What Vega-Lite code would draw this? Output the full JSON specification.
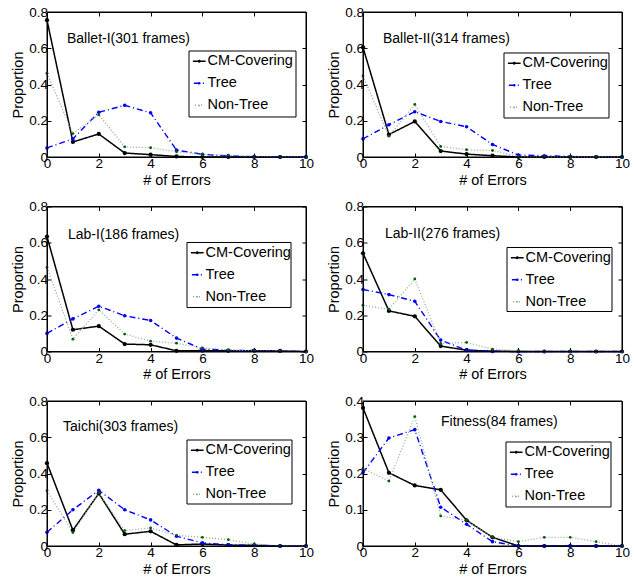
{
"$schema": "https://vega.github.io/schema/vega-lite/v6.json",
"padding": {"left": 10, "top": 5, "right": 2, "bottom": 2},
"config": {
 "font": "Liberation Sans",
 "view": {"stroke": null},
 "axis": {"grid": false, "domain": true, "domainColor": "black", "domainWidth": 1, "tickSize": -4, "tickColor": "black", "tickWidth": 1, "labelFontSize": 13.5, "labelColor": "black", "labelPadding": 3.5, "labelFlush": false, "titleFontSize": 14.5, "titleFontWeight": "normal", "titleColor": "black", "titlePadding": 3, "labelFont": "Liberation Sans", "titleFont": "Liberation Sans"},
 "legend": {"orient": "none", "title": null, "padding": 3, "labelFontSize": 14.5, "labelFont": "Liberation Sans", "labelColor": "black", "symbolSize": 256, "symbolStrokeWidth": 1.5, "rowPadding": 7, "labelOffset": 1, "offset": 0},
 "title": {"anchor": "start", "fontSize": 14, "fontWeight": "normal", "font": "Liberation Sans", "color": "black", "baseline": "middle", "frame": "group"}
},
"datasets": {"d": [
{"panel":"Ballet-I","method":"CM-Covering","e":0,"p":0.755},{"panel":"Ballet-I","method":"CM-Covering","e":1,"p":0.083},{"panel":"Ballet-I","method":"CM-Covering","e":2,"p":0.127},{"panel":"Ballet-I","method":"CM-Covering","e":3,"p":0.022},{"panel":"Ballet-I","method":"CM-Covering","e":4,"p":0.013},{"panel":"Ballet-I","method":"CM-Covering","e":5,"p":0.003},{"panel":"Ballet-I","method":"CM-Covering","e":6,"p":0},{"panel":"Ballet-I","method":"CM-Covering","e":7,"p":0},{"panel":"Ballet-I","method":"CM-Covering","e":8,"p":0},{"panel":"Ballet-I","method":"CM-Covering","e":9,"p":0},{"panel":"Ballet-I","method":"CM-Covering","e":10,"p":0},
{"panel":"Ballet-I","method":"Tree","e":0,"p":0.05},{"panel":"Ballet-I","method":"Tree","e":1,"p":0.1},{"panel":"Ballet-I","method":"Tree","e":2,"p":0.247},{"panel":"Ballet-I","method":"Tree","e":3,"p":0.285},{"panel":"Ballet-I","method":"Tree","e":4,"p":0.244},{"panel":"Ballet-I","method":"Tree","e":5,"p":0.038},{"panel":"Ballet-I","method":"Tree","e":6,"p":0.015},{"panel":"Ballet-I","method":"Tree","e":7,"p":0.006},{"panel":"Ballet-I","method":"Tree","e":8,"p":0.002},{"panel":"Ballet-I","method":"Tree","e":9,"p":0.001},{"panel":"Ballet-I","method":"Tree","e":10,"p":0},
{"panel":"Ballet-I","method":"Non-Tree","e":0,"p":0.462},{"panel":"Ballet-I","method":"Non-Tree","e":1,"p":0.129},{"panel":"Ballet-I","method":"Non-Tree","e":2,"p":0.233},{"panel":"Ballet-I","method":"Non-Tree","e":3,"p":0.056},{"panel":"Ballet-I","method":"Non-Tree","e":4,"p":0.051},{"panel":"Ballet-I","method":"Non-Tree","e":5,"p":0.029},{"panel":"Ballet-I","method":"Non-Tree","e":6,"p":0.014},{"panel":"Ballet-I","method":"Non-Tree","e":7,"p":0.01},{"panel":"Ballet-I","method":"Non-Tree","e":8,"p":0.002},{"panel":"Ballet-I","method":"Non-Tree","e":9,"p":0.001},{"panel":"Ballet-I","method":"Non-Tree","e":10,"p":0},
{"panel":"Ballet-II","method":"CM-Covering","e":0,"p":0.605},{"panel":"Ballet-II","method":"CM-Covering","e":1,"p":0.124},{"panel":"Ballet-II","method":"CM-Covering","e":2,"p":0.196},{"panel":"Ballet-II","method":"CM-Covering","e":3,"p":0.033},{"panel":"Ballet-II","method":"CM-Covering","e":4,"p":0.016},{"panel":"Ballet-II","method":"CM-Covering","e":5,"p":0.007},{"panel":"Ballet-II","method":"CM-Covering","e":6,"p":0},{"panel":"Ballet-II","method":"CM-Covering","e":7,"p":0},{"panel":"Ballet-II","method":"CM-Covering","e":8,"p":0},{"panel":"Ballet-II","method":"CM-Covering","e":9,"p":0},{"panel":"Ballet-II","method":"CM-Covering","e":10,"p":0},
{"panel":"Ballet-II","method":"Tree","e":0,"p":0.1},{"panel":"Ballet-II","method":"Tree","e":1,"p":0.178},{"panel":"Ballet-II","method":"Tree","e":2,"p":0.25},{"panel":"Ballet-II","method":"Tree","e":3,"p":0.196},{"panel":"Ballet-II","method":"Tree","e":4,"p":0.167},{"panel":"Ballet-II","method":"Tree","e":5,"p":0.069},{"panel":"Ballet-II","method":"Tree","e":6,"p":0.011},{"panel":"Ballet-II","method":"Tree","e":7,"p":0.007},{"panel":"Ballet-II","method":"Tree","e":8,"p":0.003},{"panel":"Ballet-II","method":"Tree","e":9,"p":0.001},{"panel":"Ballet-II","method":"Tree","e":10,"p":0},
{"panel":"Ballet-II","method":"Non-Tree","e":0,"p":0.447},{"panel":"Ballet-II","method":"Non-Tree","e":1,"p":0.115},{"panel":"Ballet-II","method":"Non-Tree","e":2,"p":0.29},{"panel":"Ballet-II","method":"Non-Tree","e":3,"p":0.058},{"panel":"Ballet-II","method":"Non-Tree","e":4,"p":0.04},{"panel":"Ballet-II","method":"Non-Tree","e":5,"p":0.036},{"panel":"Ballet-II","method":"Non-Tree","e":6,"p":0.002},{"panel":"Ballet-II","method":"Non-Tree","e":7,"p":0},{"panel":"Ballet-II","method":"Non-Tree","e":8,"p":0},{"panel":"Ballet-II","method":"Non-Tree","e":9,"p":0},{"panel":"Ballet-II","method":"Non-Tree","e":10,"p":0},
{"panel":"Lab-I","method":"CM-Covering","e":0,"p":0.634},{"panel":"Lab-I","method":"CM-Covering","e":1,"p":0.12},{"panel":"Lab-I","method":"CM-Covering","e":2,"p":0.14},{"panel":"Lab-I","method":"CM-Covering","e":3,"p":0.041},{"panel":"Lab-I","method":"CM-Covering","e":4,"p":0.037},{"panel":"Lab-I","method":"CM-Covering","e":5,"p":0.004},{"panel":"Lab-I","method":"CM-Covering","e":6,"p":0.005},{"panel":"Lab-I","method":"CM-Covering","e":7,"p":0.004},{"panel":"Lab-I","method":"CM-Covering","e":8,"p":0.005},{"panel":"Lab-I","method":"CM-Covering","e":9,"p":0.003},{"panel":"Lab-I","method":"CM-Covering","e":10,"p":0},
{"panel":"Lab-I","method":"Tree","e":0,"p":0.1},{"panel":"Lab-I","method":"Tree","e":1,"p":0.18},{"panel":"Lab-I","method":"Tree","e":2,"p":0.25},{"panel":"Lab-I","method":"Tree","e":3,"p":0.197},{"panel":"Lab-I","method":"Tree","e":4,"p":0.171},{"panel":"Lab-I","method":"Tree","e":5,"p":0.074},{"panel":"Lab-I","method":"Tree","e":6,"p":0.013},{"panel":"Lab-I","method":"Tree","e":7,"p":0.007},{"panel":"Lab-I","method":"Tree","e":8,"p":0.004},{"panel":"Lab-I","method":"Tree","e":9,"p":0.002},{"panel":"Lab-I","method":"Tree","e":10,"p":0},
{"panel":"Lab-I","method":"Non-Tree","e":0,"p":0.464},{"panel":"Lab-I","method":"Non-Tree","e":1,"p":0.068},{"panel":"Lab-I","method":"Non-Tree","e":2,"p":0.23},{"panel":"Lab-I","method":"Non-Tree","e":3,"p":0.096},{"panel":"Lab-I","method":"Non-Tree","e":4,"p":0.057},{"panel":"Lab-I","method":"Non-Tree","e":5,"p":0.046},{"panel":"Lab-I","method":"Non-Tree","e":6,"p":0.02},{"panel":"Lab-I","method":"Non-Tree","e":7,"p":0.009},{"panel":"Lab-I","method":"Non-Tree","e":8,"p":0.002},{"panel":"Lab-I","method":"Non-Tree","e":9,"p":0.002},{"panel":"Lab-I","method":"Non-Tree","e":10,"p":0},
{"panel":"Lab-II","method":"CM-Covering","e":0,"p":0.542},{"panel":"Lab-II","method":"CM-Covering","e":1,"p":0.224},{"panel":"Lab-II","method":"CM-Covering","e":2,"p":0.194},{"panel":"Lab-II","method":"CM-Covering","e":3,"p":0.03},{"panel":"Lab-II","method":"CM-Covering","e":4,"p":0.007},{"panel":"Lab-II","method":"CM-Covering","e":5,"p":0.002},{"panel":"Lab-II","method":"CM-Covering","e":6,"p":0},{"panel":"Lab-II","method":"CM-Covering","e":7,"p":0},{"panel":"Lab-II","method":"CM-Covering","e":8,"p":0},{"panel":"Lab-II","method":"CM-Covering","e":9,"p":0},{"panel":"Lab-II","method":"CM-Covering","e":10,"p":0},
{"panel":"Lab-II","method":"Tree","e":0,"p":0.342},{"panel":"Lab-II","method":"Tree","e":1,"p":0.314},{"panel":"Lab-II","method":"Tree","e":2,"p":0.277},{"panel":"Lab-II","method":"Tree","e":3,"p":0.063},{"panel":"Lab-II","method":"Tree","e":4,"p":0.007},{"panel":"Lab-II","method":"Tree","e":5,"p":0.002},{"panel":"Lab-II","method":"Tree","e":6,"p":0},{"panel":"Lab-II","method":"Tree","e":7,"p":0},{"panel":"Lab-II","method":"Tree","e":8,"p":0},{"panel":"Lab-II","method":"Tree","e":9,"p":0},{"panel":"Lab-II","method":"Tree","e":10,"p":0},
{"panel":"Lab-II","method":"Non-Tree","e":0,"p":0.255},{"panel":"Lab-II","method":"Non-Tree","e":1,"p":0.233},{"panel":"Lab-II","method":"Non-Tree","e":2,"p":0.4},{"panel":"Lab-II","method":"Non-Tree","e":3,"p":0.044},{"panel":"Lab-II","method":"Non-Tree","e":4,"p":0.05},{"panel":"Lab-II","method":"Non-Tree","e":5,"p":0.013},{"panel":"Lab-II","method":"Non-Tree","e":6,"p":0.004},{"panel":"Lab-II","method":"Non-Tree","e":7,"p":0},{"panel":"Lab-II","method":"Non-Tree","e":8,"p":0},{"panel":"Lab-II","method":"Non-Tree","e":9,"p":0},{"panel":"Lab-II","method":"Non-Tree","e":10,"p":0},
{"panel":"Taichi","method":"CM-Covering","e":0,"p":0.457},{"panel":"Taichi","method":"CM-Covering","e":1,"p":0.087},{"panel":"Taichi","method":"CM-Covering","e":2,"p":0.29},{"panel":"Taichi","method":"CM-Covering","e":3,"p":0.065},{"panel":"Taichi","method":"CM-Covering","e":4,"p":0.081},{"panel":"Taichi","method":"CM-Covering","e":5,"p":0.006},{"panel":"Taichi","method":"CM-Covering","e":6,"p":0.011},{"panel":"Taichi","method":"CM-Covering","e":7,"p":0.005},{"panel":"Taichi","method":"CM-Covering","e":8,"p":0.004},{"panel":"Taichi","method":"CM-Covering","e":9,"p":0},{"panel":"Taichi","method":"CM-Covering","e":10,"p":0},
{"panel":"Taichi","method":"Tree","e":0,"p":0.076},{"panel":"Taichi","method":"Tree","e":1,"p":0.2},{"panel":"Taichi","method":"Tree","e":2,"p":0.307},{"panel":"Taichi","method":"Tree","e":3,"p":0.2},{"panel":"Taichi","method":"Tree","e":4,"p":0.144},{"panel":"Taichi","method":"Tree","e":5,"p":0.054},{"panel":"Taichi","method":"Tree","e":6,"p":0.017},{"panel":"Taichi","method":"Tree","e":7,"p":0.007},{"panel":"Taichi","method":"Tree","e":8,"p":0.004},{"panel":"Taichi","method":"Tree","e":9,"p":0.001},{"panel":"Taichi","method":"Tree","e":10,"p":0},
{"panel":"Taichi","method":"Non-Tree","e":0,"p":0.305},{"panel":"Taichi","method":"Non-Tree","e":1,"p":0.074},{"panel":"Taichi","method":"Non-Tree","e":2,"p":0.293},{"panel":"Taichi","method":"Non-Tree","e":3,"p":0.085},{"panel":"Taichi","method":"Non-Tree","e":4,"p":0.1},{"panel":"Taichi","method":"Non-Tree","e":5,"p":0.059},{"panel":"Taichi","method":"Non-Tree","e":6,"p":0.048},{"panel":"Taichi","method":"Non-Tree","e":7,"p":0.035},{"panel":"Taichi","method":"Non-Tree","e":8,"p":0.011},{"panel":"Taichi","method":"Non-Tree","e":9,"p":0.001},{"panel":"Taichi","method":"Non-Tree","e":10,"p":0},
{"panel":"Fitness","method":"CM-Covering","e":0,"p":0.381},{"panel":"Fitness","method":"CM-Covering","e":1,"p":0.202},{"panel":"Fitness","method":"CM-Covering","e":2,"p":0.167},{"panel":"Fitness","method":"CM-Covering","e":3,"p":0.155},{"panel":"Fitness","method":"CM-Covering","e":4,"p":0.071},{"panel":"Fitness","method":"CM-Covering","e":5,"p":0.024},{"panel":"Fitness","method":"CM-Covering","e":6,"p":0},{"panel":"Fitness","method":"CM-Covering","e":7,"p":0},{"panel":"Fitness","method":"CM-Covering","e":8,"p":0},{"panel":"Fitness","method":"CM-Covering","e":9,"p":0},{"panel":"Fitness","method":"CM-Covering","e":10,"p":0},
{"panel":"Fitness","method":"Tree","e":0,"p":0.202},{"panel":"Fitness","method":"Tree","e":1,"p":0.298},{"panel":"Fitness","method":"Tree","e":2,"p":0.321},{"panel":"Fitness","method":"Tree","e":3,"p":0.107},{"panel":"Fitness","method":"Tree","e":4,"p":0.06},{"panel":"Fitness","method":"Tree","e":5,"p":0.012},{"panel":"Fitness","method":"Tree","e":6,"p":0},{"panel":"Fitness","method":"Tree","e":7,"p":0},{"panel":"Fitness","method":"Tree","e":8,"p":0},{"panel":"Fitness","method":"Tree","e":9,"p":0},{"panel":"Fitness","method":"Tree","e":10,"p":0},
{"panel":"Fitness","method":"Non-Tree","e":0,"p":0.214},{"panel":"Fitness","method":"Non-Tree","e":1,"p":0.179},{"panel":"Fitness","method":"Non-Tree","e":2,"p":0.357},{"panel":"Fitness","method":"Non-Tree","e":3,"p":0.083},{"panel":"Fitness","method":"Non-Tree","e":4,"p":0.071},{"panel":"Fitness","method":"Non-Tree","e":5,"p":0.024},{"panel":"Fitness","method":"Non-Tree","e":6,"p":0.012},{"panel":"Fitness","method":"Non-Tree","e":7,"p":0.024},{"panel":"Fitness","method":"Non-Tree","e":8,"p":0.024},{"panel":"Fitness","method":"Non-Tree","e":9,"p":0.012},{"panel":"Fitness","method":"Non-Tree","e":10,"p":0}
]},
"data": {"name": "d"},
"columns": 2,
"spacing": {"row": 12.5, "column": 12},
"resolve": {"scale": {"x": "independent", "y": "independent", "color": "independent", "strokeDash": "independent", "strokeWidth": "independent", "fill": "independent", "size": "independent"}, "legend": {"color": "independent", "strokeDash": "independent"}},
"concat": [
{"width": 259, "height": 145, "title": {"text": "Ballet-I(301 frames)", "offset": -41, "dx": 20},
 "transform": [{"filter": "datum.panel === 'Ballet-I'"}],
 "layer": [
  {"mark": {"type": "line"}, "encoding": {
   "x": {"field": "e", "type": "quantitative", "scale": {"domain": [0, 10], "nice": false}, "axis": {"orient": "bottom", "values": [0,2,4,6,8,10], "title": "# of Errors"}},
   "y": {"field": "p", "type": "quantitative", "scale": {"domain": [0, 0.8], "nice": false}, "axis": {"orient": "left", "values": [0,0.2,0.4,0.6,0.8], "format": "~g", "title": "Proportion"}},
   "color": {"field": "method", "type": "nominal", "scale": {"domain": ["CM-Covering","Tree","Non-Tree"], "range": ["#000000","#0000ff","#8fae8f"]}, "legend": {"legendX": 142, "legendY": 39, "symbolSize": 256, "symbolStrokeWidth": 1.5, "symbolType": "M-3,0L3,0M-0.36,0A0.36,0.36,0,1,0,0.36,0A0.36,0.36,0,1,0,-0.36,0"}},
   "strokeDash": {"field": "method", "type": "nominal", "scale": {"domain": ["CM-Covering","Tree","Non-Tree"], "range": [[1,0],[6,3,1,3],[1,2]]}, "legend": {"legendX": 142, "legendY": 39, "symbolSize": 256, "symbolStrokeWidth": 1.5, "symbolType": "M-3,0L3,0M-0.36,0A0.36,0.36,0,1,0,0.36,0A0.36,0.36,0,1,0,-0.36,0"}},
   "strokeWidth": {"field": "method", "type": "nominal", "scale": {"domain": ["CM-Covering","Tree","Non-Tree"], "range": [1.5,1.3,1]}, "legend": null}}},
  {"mark": {"type": "circle", "opacity": 1}, "encoding": {
   "x": {"field": "e", "type": "quantitative", "axis": {"orient": "top", "values": [0,2,4,6,8,10], "labels": false, "title": null}},
   "y": {"field": "p", "type": "quantitative", "axis": {"orient": "right", "values": [0,0.2,0.4,0.6,0.8], "labels": false, "title": null}},
   "fill": {"field": "method", "type": "nominal", "scale": {"domain": ["CM-Covering","Tree","Non-Tree"], "range": ["#000000","#0000ff","#0a5a0a"]}, "legend": null},
   "size": {"field": "method", "type": "nominal", "scale": {"domain": ["CM-Covering","Tree","Non-Tree"], "range": [18,8,10]}, "legend": null}}},
  {"data": {"values": [{}]}, "mark": {"type": "rect", "fill": null, "stroke": "black", "strokeWidth": 1}, "encoding": {"x": {"datum": 0, "axis": null}, "x2": {"datum": 10}, "y": {"datum": 0, "axis": null}, "y2": {"datum": 0.8}}},
  {"data": {"values": [{}]}, "mark": {"type": "rect", "fill": "white", "stroke": "black", "strokeWidth": 1}, "encoding": {"x": {"datum": 5.483, "axis": null}, "x2": {"datum": 9.614}, "y": {"datum": 0.5848, "axis": null}, "y2": {"datum": 0.2207}}}
 ],
 "resolve": {"axis": {"x": "independent", "y": "independent"}}},
{"width": 259, "height": 145, "title": {"text": "Ballet-II(314 frames)", "offset": -41, "dx": 20},
 "transform": [{"filter": "datum.panel === 'Ballet-II'"}],
 "layer": [
  {"mark": {"type": "line"}, "encoding": {
   "x": {"field": "e", "type": "quantitative", "scale": {"domain": [0, 10], "nice": false}, "axis": {"orient": "bottom", "values": [0,2,4,6,8,10], "title": "# of Errors"}},
   "y": {"field": "p", "type": "quantitative", "scale": {"domain": [0, 0.8], "nice": false}, "axis": {"orient": "left", "values": [0,0.2,0.4,0.6,0.8], "format": "~g", "title": "Proportion"}},
   "color": {"field": "method", "type": "nominal", "scale": {"domain": ["CM-Covering","Tree","Non-Tree"], "range": ["#000000","#0000ff","#8fae8f"]}, "legend": {"legendX": 141, "legendY": 41, "symbolSize": 256, "symbolStrokeWidth": 1.5, "symbolType": "M-3,0L3,0M-0.36,0A0.36,0.36,0,1,0,0.36,0A0.36,0.36,0,1,0,-0.36,0"}},
   "strokeDash": {"field": "method", "type": "nominal", "scale": {"domain": ["CM-Covering","Tree","Non-Tree"], "range": [[1,0],[6,3,1,3],[1,2]]}, "legend": {"legendX": 141, "legendY": 41, "symbolSize": 256, "symbolStrokeWidth": 1.5, "symbolType": "M-3,0L3,0M-0.36,0A0.36,0.36,0,1,0,0.36,0A0.36,0.36,0,1,0,-0.36,0"}},
   "strokeWidth": {"field": "method", "type": "nominal", "scale": {"domain": ["CM-Covering","Tree","Non-Tree"], "range": [1.5,1.3,1]}, "legend": null}}},
  {"mark": {"type": "circle", "opacity": 1}, "encoding": {
   "x": {"field": "e", "type": "quantitative", "axis": {"orient": "top", "values": [0,2,4,6,8,10], "labels": false, "title": null}},
   "y": {"field": "p", "type": "quantitative", "axis": {"orient": "right", "values": [0,0.2,0.4,0.6,0.8], "labels": false, "title": null}},
   "fill": {"field": "method", "type": "nominal", "scale": {"domain": ["CM-Covering","Tree","Non-Tree"], "range": ["#000000","#0000ff","#0a5a0a"]}, "legend": null},
   "size": {"field": "method", "type": "nominal", "scale": {"domain": ["CM-Covering","Tree","Non-Tree"], "range": [18,8,10]}, "legend": null}}},
  {"data": {"values": [{}]}, "mark": {"type": "rect", "fill": null, "stroke": "black", "strokeWidth": 1}, "encoding": {"x": {"datum": 0, "axis": null}, "x2": {"datum": 10}, "y": {"datum": 0, "axis": null}, "y2": {"datum": 0.8}}},
  {"data": {"values": [{}]}, "mark": {"type": "rect", "fill": "white", "stroke": "black", "strokeWidth": 1}, "encoding": {"x": {"datum": 5.444, "axis": null}, "x2": {"datum": 9.498}, "y": {"datum": 0.5738, "axis": null}, "y2": {"datum": 0.2152}}}
 ],
 "resolve": {"axis": {"x": "independent", "y": "independent"}}},
{"width": 259, "height": 145, "title": {"text": "Lab-I(186 frames)", "offset": -42, "dx": 21},
 "transform": [{"filter": "datum.panel === 'Lab-I'"}],
 "layer": [
  {"mark": {"type": "line"}, "encoding": {
   "x": {"field": "e", "type": "quantitative", "scale": {"domain": [0, 10], "nice": false}, "axis": {"orient": "bottom", "values": [0,2,4,6,8,10], "title": "# of Errors"}},
   "y": {"field": "p", "type": "quantitative", "scale": {"domain": [0, 0.8], "nice": false}, "axis": {"orient": "left", "values": [0,0.2,0.4,0.6,0.8], "format": "~g", "title": "Proportion"}},
   "color": {"field": "method", "type": "nominal", "scale": {"domain": ["CM-Covering","Tree","Non-Tree"], "range": ["#000000","#0000ff","#8fae8f"]}, "legend": {"legendX": 140, "legendY": 36, "symbolSize": 256, "symbolStrokeWidth": 1.5, "symbolType": "M-3,0L3,0M-0.36,0A0.36,0.36,0,1,0,0.36,0A0.36,0.36,0,1,0,-0.36,0"}},
   "strokeDash": {"field": "method", "type": "nominal", "scale": {"domain": ["CM-Covering","Tree","Non-Tree"], "range": [[1,0],[6,3,1,3],[1,2]]}, "legend": {"legendX": 140, "legendY": 36, "symbolSize": 256, "symbolStrokeWidth": 1.5, "symbolType": "M-3,0L3,0M-0.36,0A0.36,0.36,0,1,0,0.36,0A0.36,0.36,0,1,0,-0.36,0"}},
   "strokeWidth": {"field": "method", "type": "nominal", "scale": {"domain": ["CM-Covering","Tree","Non-Tree"], "range": [1.5,1.3,1]}, "legend": null}}},
  {"mark": {"type": "circle", "opacity": 1}, "encoding": {
   "x": {"field": "e", "type": "quantitative", "axis": {"orient": "top", "values": [0,2,4,6,8,10], "labels": false, "title": null}},
   "y": {"field": "p", "type": "quantitative", "axis": {"orient": "right", "values": [0,0.2,0.4,0.6,0.8], "labels": false, "title": null}},
   "fill": {"field": "method", "type": "nominal", "scale": {"domain": ["CM-Covering","Tree","Non-Tree"], "range": ["#000000","#0000ff","#0a5a0a"]}, "legend": null},
   "size": {"field": "method", "type": "nominal", "scale": {"domain": ["CM-Covering","Tree","Non-Tree"], "range": [18,8,10]}, "legend": null}}},
  {"data": {"values": [{}]}, "mark": {"type": "rect", "fill": null, "stroke": "black", "strokeWidth": 1}, "encoding": {"x": {"datum": 0, "axis": null}, "x2": {"datum": 10}, "y": {"datum": 0, "axis": null}, "y2": {"datum": 0.8}}},
  {"data": {"values": [{}]}, "mark": {"type": "rect", "fill": "white", "stroke": "black", "strokeWidth": 1}, "encoding": {"x": {"datum": 5.405, "axis": null}, "x2": {"datum": 9.421}, "y": {"datum": 0.6014, "axis": null}, "y2": {"datum": 0.2428}}}
 ],
 "resolve": {"axis": {"x": "independent", "y": "independent"}}},
{"width": 259, "height": 145, "title": {"text": "Lab-II(276 frames)", "offset": -41, "dx": 22},
 "transform": [{"filter": "datum.panel === 'Lab-II'"}],
 "layer": [
  {"mark": {"type": "line"}, "encoding": {
   "x": {"field": "e", "type": "quantitative", "scale": {"domain": [0, 10], "nice": false}, "axis": {"orient": "bottom", "values": [0,2,4,6,8,10], "title": "# of Errors"}},
   "y": {"field": "p", "type": "quantitative", "scale": {"domain": [0, 0.8], "nice": false}, "axis": {"orient": "left", "values": [0,0.2,0.4,0.6,0.8], "format": "~g", "title": "Proportion"}},
   "color": {"field": "method", "type": "nominal", "scale": {"domain": ["CM-Covering","Tree","Non-Tree"], "range": ["#000000","#0000ff","#8fae8f"]}, "legend": {"legendX": 144, "legendY": 41, "symbolSize": 256, "symbolStrokeWidth": 1.5, "symbolType": "M-3,0L3,0M-0.36,0A0.36,0.36,0,1,0,0.36,0A0.36,0.36,0,1,0,-0.36,0"}},
   "strokeDash": {"field": "method", "type": "nominal", "scale": {"domain": ["CM-Covering","Tree","Non-Tree"], "range": [[1,0],[6,3,1,3],[1,2]]}, "legend": {"legendX": 144, "legendY": 41, "symbolSize": 256, "symbolStrokeWidth": 1.5, "symbolType": "M-3,0L3,0M-0.36,0A0.36,0.36,0,1,0,0.36,0A0.36,0.36,0,1,0,-0.36,0"}},
   "strokeWidth": {"field": "method", "type": "nominal", "scale": {"domain": ["CM-Covering","Tree","Non-Tree"], "range": [1.5,1.3,1]}, "legend": null}}},
  {"mark": {"type": "circle", "opacity": 1}, "encoding": {
   "x": {"field": "e", "type": "quantitative", "axis": {"orient": "top", "values": [0,2,4,6,8,10], "labels": false, "title": null}},
   "y": {"field": "p", "type": "quantitative", "axis": {"orient": "right", "values": [0,0.2,0.4,0.6,0.8], "labels": false, "title": null}},
   "fill": {"field": "method", "type": "nominal", "scale": {"domain": ["CM-Covering","Tree","Non-Tree"], "range": ["#000000","#0000ff","#0a5a0a"]}, "legend": null},
   "size": {"field": "method", "type": "nominal", "scale": {"domain": ["CM-Covering","Tree","Non-Tree"], "range": [18,8,10]}, "legend": null}}},
  {"data": {"values": [{}]}, "mark": {"type": "rect", "fill": null, "stroke": "black", "strokeWidth": 1}, "encoding": {"x": {"datum": 0, "axis": null}, "x2": {"datum": 10}, "y": {"datum": 0, "axis": null}, "y2": {"datum": 0.8}}},
  {"data": {"values": [{}]}, "mark": {"type": "rect", "fill": "white", "stroke": "black", "strokeWidth": 1}, "encoding": {"x": {"datum": 5.56, "axis": null}, "x2": {"datum": 9.614}, "y": {"datum": 0.5738, "axis": null}, "y2": {"datum": 0.2207}}}
 ],
 "resolve": {"axis": {"x": "independent", "y": "independent"}}},
{"width": 259, "height": 145, "title": {"text": "Taichi(303 frames)", "offset": -40, "dx": 16},
 "transform": [{"filter": "datum.panel === 'Taichi'"}],
 "layer": [
  {"mark": {"type": "line"}, "encoding": {
   "x": {"field": "e", "type": "quantitative", "scale": {"domain": [0, 10], "nice": false}, "axis": {"orient": "bottom", "values": [0,2,4,6,8,10], "title": "# of Errors"}},
   "y": {"field": "p", "type": "quantitative", "scale": {"domain": [0, 0.8], "nice": false}, "axis": {"orient": "left", "values": [0,0.2,0.4,0.6,0.8], "format": "~g", "title": "Proportion"}},
   "color": {"field": "method", "type": "nominal", "scale": {"domain": ["CM-Covering","Tree","Non-Tree"], "range": ["#000000","#0000ff","#8fae8f"]}, "legend": {"legendX": 140, "legendY": 39, "symbolSize": 256, "symbolStrokeWidth": 1.5, "symbolType": "M-3,0L3,0M-0.36,0A0.36,0.36,0,1,0,0.36,0A0.36,0.36,0,1,0,-0.36,0"}},
   "strokeDash": {"field": "method", "type": "nominal", "scale": {"domain": ["CM-Covering","Tree","Non-Tree"], "range": [[1,0],[6,3,1,3],[1,2]]}, "legend": {"legendX": 140, "legendY": 39, "symbolSize": 256, "symbolStrokeWidth": 1.5, "symbolType": "M-3,0L3,0M-0.36,0A0.36,0.36,0,1,0,0.36,0A0.36,0.36,0,1,0,-0.36,0"}},
   "strokeWidth": {"field": "method", "type": "nominal", "scale": {"domain": ["CM-Covering","Tree","Non-Tree"], "range": [1.5,1.3,1]}, "legend": null}}},
  {"mark": {"type": "circle", "opacity": 1}, "encoding": {
   "x": {"field": "e", "type": "quantitative", "axis": {"orient": "top", "values": [0,2,4,6,8,10], "labels": false, "title": null}},
   "y": {"field": "p", "type": "quantitative", "axis": {"orient": "right", "values": [0,0.2,0.4,0.6,0.8], "labels": false, "title": null}},
   "fill": {"field": "method", "type": "nominal", "scale": {"domain": ["CM-Covering","Tree","Non-Tree"], "range": ["#000000","#0000ff","#0a5a0a"]}, "legend": null},
   "size": {"field": "method", "type": "nominal", "scale": {"domain": ["CM-Covering","Tree","Non-Tree"], "range": [18,8,10]}, "legend": null}}},
  {"data": {"values": [{}]}, "mark": {"type": "rect", "fill": null, "stroke": "black", "strokeWidth": 1}, "encoding": {"x": {"datum": 0, "axis": null}, "x2": {"datum": 10}, "y": {"datum": 0, "axis": null}, "y2": {"datum": 0.8}}},
  {"data": {"values": [{}]}, "mark": {"type": "rect", "fill": "white", "stroke": "black", "strokeWidth": 1}, "encoding": {"x": {"datum": 5.405, "axis": null}, "x2": {"datum": 9.459}, "y": {"datum": 0.5848, "axis": null}, "y2": {"datum": 0.2317}}}
 ],
 "resolve": {"axis": {"x": "independent", "y": "independent"}}},
{"width": 259, "height": 145, "title": {"text": "Fitness(84 frames)", "offset": -35, "dx": 78},
 "transform": [{"filter": "datum.panel === 'Fitness'"}],
 "layer": [
  {"mark": {"type": "line"}, "encoding": {
   "x": {"field": "e", "type": "quantitative", "scale": {"domain": [0, 10], "nice": false}, "axis": {"orient": "bottom", "values": [0,2,4,6,8,10], "title": "# of Errors"}},
   "y": {"field": "p", "type": "quantitative", "scale": {"domain": [0, 0.4], "nice": false}, "axis": {"orient": "left", "values": [0,0.1,0.2,0.3,0.4], "format": "~g", "title": "Proportion"}},
   "color": {"field": "method", "type": "nominal", "scale": {"domain": ["CM-Covering","Tree","Non-Tree"], "range": ["#000000","#0000ff","#8fae8f"]}, "legend": {"legendX": 143, "legendY": 41, "symbolSize": 256, "symbolStrokeWidth": 1.5, "symbolType": "M-3,0L3,0M-0.36,0A0.36,0.36,0,1,0,0.36,0A0.36,0.36,0,1,0,-0.36,0"}},
   "strokeDash": {"field": "method", "type": "nominal", "scale": {"domain": ["CM-Covering","Tree","Non-Tree"], "range": [[1,0],[6,3,1,3],[1,2]]}, "legend": {"legendX": 143, "legendY": 41, "symbolSize": 256, "symbolStrokeWidth": 1.5, "symbolType": "M-3,0L3,0M-0.36,0A0.36,0.36,0,1,0,0.36,0A0.36,0.36,0,1,0,-0.36,0"}},
   "strokeWidth": {"field": "method", "type": "nominal", "scale": {"domain": ["CM-Covering","Tree","Non-Tree"], "range": [1.5,1.3,1]}, "legend": null}}},
  {"mark": {"type": "circle", "opacity": 1}, "encoding": {
   "x": {"field": "e", "type": "quantitative", "axis": {"orient": "top", "values": [0,2,4,6,8,10], "labels": false, "title": null}},
   "y": {"field": "p", "type": "quantitative", "axis": {"orient": "right", "values": [0,0.1,0.2,0.3,0.4], "labels": false, "title": null}},
   "fill": {"field": "method", "type": "nominal", "scale": {"domain": ["CM-Covering","Tree","Non-Tree"], "range": ["#000000","#0000ff","#0a5a0a"]}, "legend": null},
   "size": {"field": "method", "type": "nominal", "scale": {"domain": ["CM-Covering","Tree","Non-Tree"], "range": [18,8,10]}, "legend": null}}},
  {"data": {"values": [{}]}, "mark": {"type": "rect", "fill": null, "stroke": "black", "strokeWidth": 1}, "encoding": {"x": {"datum": 0, "axis": null}, "x2": {"datum": 10}, "y": {"datum": 0, "axis": null}, "y2": {"datum": 0.4}}},
  {"data": {"values": [{}]}, "mark": {"type": "rect", "fill": "white", "stroke": "black", "strokeWidth": 1}, "encoding": {"x": {"datum": 5.521, "axis": null}, "x2": {"datum": 9.575}, "y": {"datum": 0.2869, "axis": null}, "y2": {"datum": 0.1076}}}
 ],
 "resolve": {"axis": {"x": "independent", "y": "independent"}}}
]
}
